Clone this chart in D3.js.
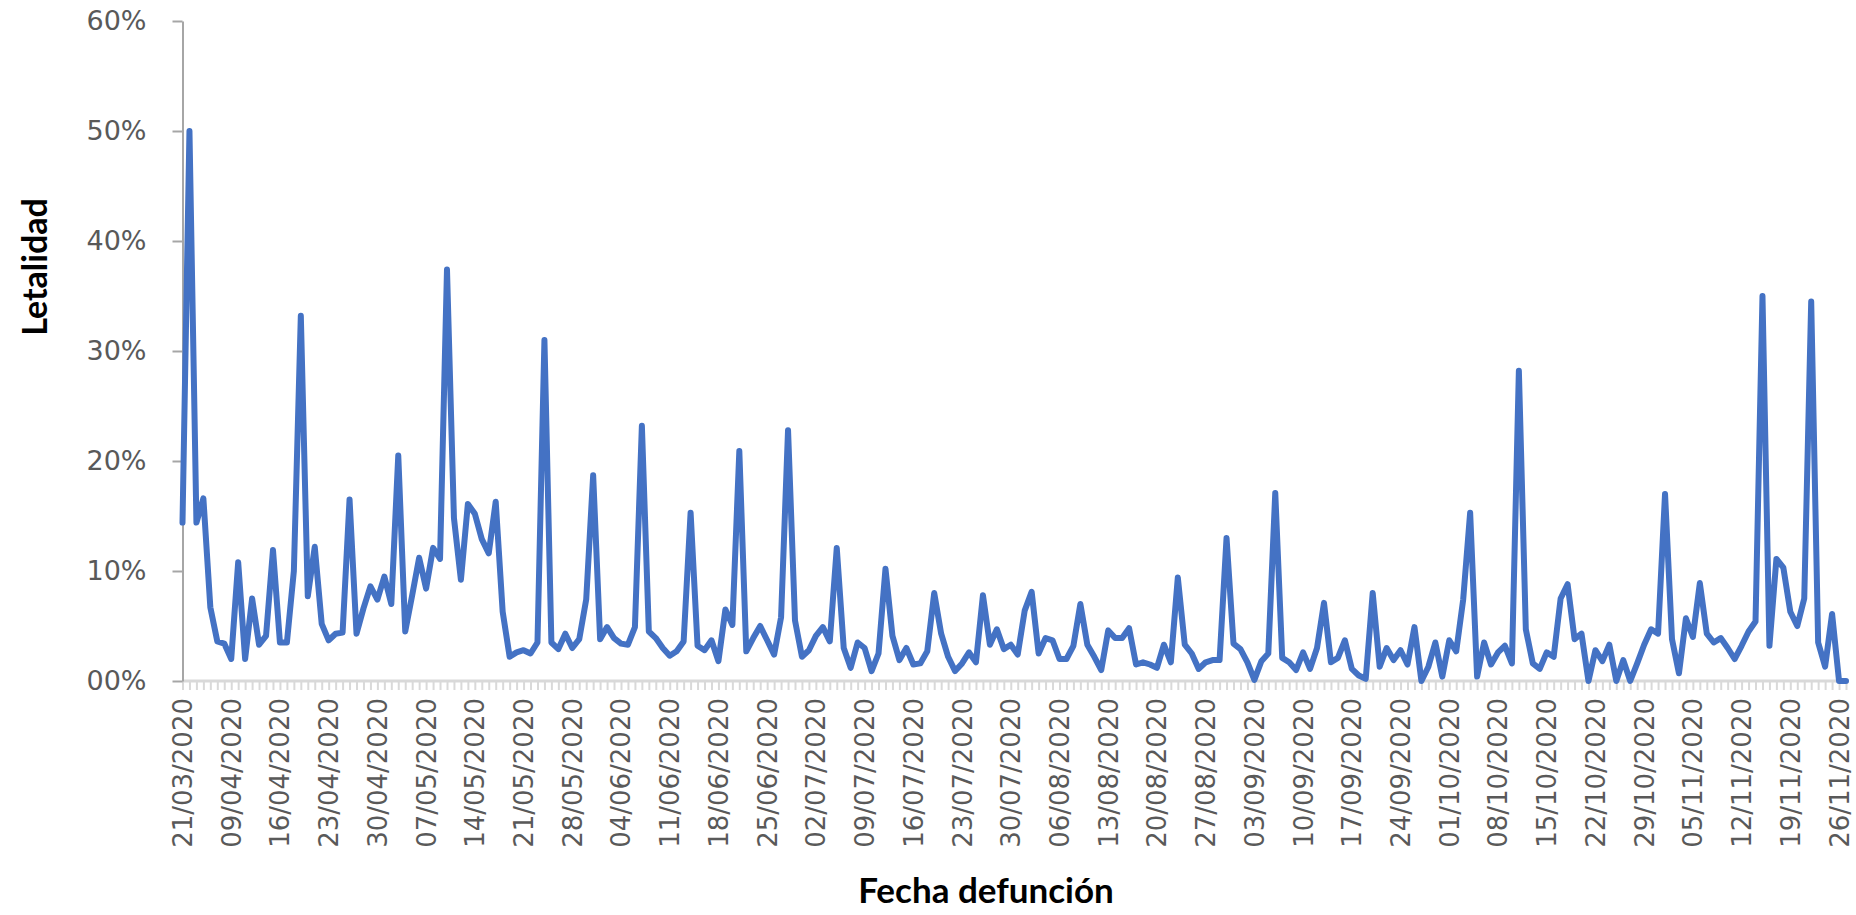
<!DOCTYPE html>
<html>
<head>
<meta charset="utf-8">
<script src="https://cdn.jsdelivr.net/npm/d3@7"></script>
<style>
  html, body { margin: 0; padding: 0; background: #ffffff; }
  svg { display: block; }
</style>
</head>
<body>
<svg id="chart" width="1856" height="915"></svg>
<script>
// ---- Data ----
const tickLabels = [
  "21/03/2020","09/04/2020","16/04/2020","23/04/2020","30/04/2020","07/05/2020","14/05/2020",
  "21/05/2020","28/05/2020","04/06/2020","11/06/2020","18/06/2020","25/06/2020","02/07/2020",
  "09/07/2020","16/07/2020","23/07/2020","30/07/2020","06/08/2020","13/08/2020","20/08/2020",
  "27/08/2020","03/09/2020","10/09/2020","17/09/2020","24/09/2020","01/10/2020","08/10/2020",
  "15/10/2020","22/10/2020","29/10/2020","05/11/2020","12/11/2020","19/11/2020","26/11/2020"
];
const labelEvery = 7; // one date label every 7 categories

// Letalidad (%), one value per category (fecha de defunción)
const letalidad = [
  14.4, 50.0, 14.4, 16.6, 6.7, 3.6, 3.4, 2.0, 10.8, 2.0,
  7.5, 3.3, 4.1, 11.9, 3.5, 3.5, 10.0, 33.2, 7.7, 12.2,
  5.2, 3.7, 4.3, 4.4, 16.5, 4.3, 6.6, 8.6, 7.4, 9.5,
  7.0, 20.5, 4.5, 7.8, 11.2, 8.4, 12.1, 11.1, 37.4, 14.8,
  9.2, 16.1, 15.2, 12.9, 11.6, 16.3, 6.3, 2.2, 2.6, 2.8,
  2.5, 3.5, 31.0, 3.5, 2.9, 4.3, 3.0, 3.8, 7.4, 18.7,
  3.8, 4.9, 3.9, 3.4, 3.3, 4.9, 23.2, 4.5, 3.9, 3.0,
  2.3, 2.7, 3.6, 15.3, 3.2, 2.8, 3.7, 1.8, 6.5, 5.1,
  20.9, 2.7, 3.9, 5.0, 3.7, 2.4, 5.8, 22.8, 5.5, 2.2,
  2.8, 4.1, 4.9, 3.6, 12.1, 3.0, 1.2, 3.5, 3.0, 0.9,
  2.5, 10.2, 4.1, 1.9, 3.0, 1.5, 1.6, 2.7, 8.0, 4.3,
  2.2, 0.9, 1.6, 2.6, 1.7, 7.8, 3.3, 4.7, 2.9, 3.3,
  2.4, 6.4, 8.1, 2.5, 3.9, 3.7, 2.0, 2.0, 3.2, 7.0,
  3.3, 2.2, 1.0, 4.6, 3.9, 3.9, 4.8, 1.5, 1.7, 1.5,
  1.2, 3.3, 1.7, 9.4, 3.3, 2.5, 1.1, 1.7, 1.9, 1.9,
  13.0, 3.4, 2.9, 1.7, 0.1, 1.8, 2.5, 17.1, 2.1, 1.7,
  1.0, 2.6, 1.1, 3.0, 7.1, 1.7, 2.1, 3.7, 1.1, 0.5,
  0.2, 8.0, 1.3, 3.0, 1.9, 2.8, 1.5, 4.9, 0.0, 1.3,
  3.5, 0.4, 3.7, 2.7, 7.4, 15.3, 0.4, 3.5, 1.5, 2.6,
  3.2, 1.6, 28.2, 4.7, 1.6, 1.1, 2.6, 2.2, 7.5, 8.8,
  3.8, 4.3, 0.0, 2.8, 1.8, 3.3, 0.0, 1.9, 0.0, 1.6,
  3.3, 4.7, 4.3, 17.0, 3.8, 0.7, 5.7, 4.0, 8.9, 4.3,
  3.5, 3.9, 3.0, 2.0, 3.2, 4.5, 5.4, 35.0, 3.2, 11.1,
  10.3, 6.3, 5.0, 7.5, 34.5, 3.5, 1.3, 6.1, 0.0, 0.0
];
const yTicks = [0, 10, 20, 30, 40, 50, 60];
const yTitle = "Letalidad";
const xTitle = "Fecha defunción";

// ---- Layout ----
const svg = d3.select("#chart");
const plot = { left: 182.5, right: 1846, top: 21, bottom: 681 };

const x = d3.scaleLinear().domain([0, letalidad.length - 1]).range([plot.left, plot.right]);
const y = d3.scaleLinear().domain([0, 60]).range([plot.bottom, plot.top]);

// X axis: light gray baseline with a minor tick per category
const xAxisG = svg.append("g").attr("transform", `translate(0,${plot.bottom})`);
const minorAxis = d3.axisBottom(x)
  .tickValues(d3.range(letalidad.length))
  .tickSize(9)
  .tickSizeOuter(0)
  .tickFormat("");
xAxisG.call(minorAxis);
xAxisG.select(".domain").attr("stroke", "#d9d9d9").attr("stroke-width", 3)
  .attr("d", `M${plot.left},0H${plot.right + 3}`);
xAxisG.selectAll(".tick line").attr("stroke", "#d9d9d9").attr("stroke-width", 2);

// X labels (every 7th category)
const labelAxis = d3.axisBottom(x)
  .tickValues(d3.range(0, letalidad.length, labelEvery))
  .tickSize(0)
  .tickFormat((d, i) => tickLabels[i]);
const xLab = svg.append("g").attr("transform", `translate(0,${plot.bottom})`).call(labelAxis);
xLab.select(".domain").remove();
xLab.selectAll(".tick text")
  .attr("font-family", "DejaVu Sans, sans-serif")
  .attr("font-size", 26)
  .attr("fill", "#595959")
  .attr("transform", "rotate(-90)")
  .attr("text-anchor", "end")
  .attr("dominant-baseline", "central")
  .attr("x", -17)
  .attr("y", 0)
  .attr("dy", null);

// Y axis
const yAxis = d3.axisLeft(y)
  .tickValues(yTicks)
  .tickSize(10)
  .tickSizeOuter(0)
  .tickPadding(26)
  .tickFormat(d => (d === 0 ? "00" : d3.format("d")(d)) + "%");
const yG = svg.append("g").attr("transform", `translate(${plot.left},0)`).call(yAxis);
yG.select(".domain").attr("stroke", "#a6a6a6").attr("stroke-width", 2);
yG.selectAll(".tick line").attr("stroke", "#a6a6a6").attr("stroke-width", 2);
yG.selectAll(".tick text")
  .attr("font-family", "DejaVu Sans, sans-serif")
  .attr("font-size", 27)
  .attr("fill", "#595959");

// Line
const line = d3.line()
  .x((d, i) => x(i))
  .y(d => y(d));
svg.append("path")
  .datum(letalidad)
  .attr("fill", "none")
  .attr("stroke", "#4472C4")
  .attr("stroke-width", 6)
  .attr("stroke-linejoin", "round")
  .attr("stroke-linecap", "round")
  .attr("d", line);

// Axis titles
svg.append("text")
  .attr("transform", `translate(33,${(plot.top + plot.bottom) / 2 - 84}) rotate(-90)`)
  .attr("text-anchor", "middle")
  .attr("dominant-baseline", "central")
  .attr("font-family", "Lato, Calibri, sans-serif")
  .attr("font-weight", "bold")
  .attr("font-size", 34)
  .attr("fill", "#000")
  .text(yTitle);

svg.append("text")
  .attr("x", 986)
  .attr("y", 903)
  .attr("text-anchor", "middle")
  .attr("font-family", "Lato, Calibri, sans-serif")
  .attr("font-weight", "bold")
  .attr("font-size", 35)
  .attr("fill", "#000")
  .text(xTitle);
</script>
</body>
</html>
